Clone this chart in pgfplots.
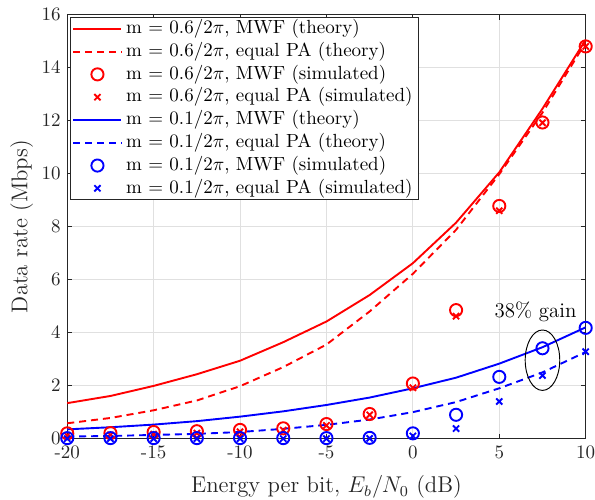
\documentclass[border=0pt]{standalone}
\usepackage{pgfplots}
\pgfplotsset{compat=1.18}
\usetikzlibrary{calc}
\definecolor{axgray}{gray}{0.15}
\definecolor{gridgray}{gray}{0.88}

\pgfplotstableread{
x      rs     rd     ro     rx     bs     bd     bo     bx
-20    1.34   0.58   0.20   0.12   0.35   0.08   0.02   0.00
-17.5  1.61   0.78   0.21   0.14   0.43   0.10   0.02   0.00
-15    1.99   1.07   0.25   0.17   0.53   0.14   0.02   0.00
-12.5  2.43   1.44   0.28   0.21   0.66   0.18   0.02   0.00
-10    2.94   1.98   0.33   0.26   0.83   0.25   0.02   0.00
-7.5   3.64   2.70   0.39   0.32   1.03   0.37   0.02   0.00
-5     4.42   3.55   0.55   0.50   1.27   0.52   0.02   0.00
-2.5   5.42   4.80   0.93   0.90   1.55   0.72   0.03   0.01
0      6.62   6.22   2.08   1.92   1.90   1.00   0.20   0.10
2.5    8.15   7.88   4.85   4.62   2.30   1.38   0.90   0.38
5      10.05  9.98   8.78   8.60   2.83   1.90   2.33   1.40
7.5    12.45  12.30  11.93  11.92  3.45   2.50   3.41   2.38
10     15.05  14.95  14.80  14.80  4.20   3.27   4.18   3.28
}\rates

\begin{document}
\begin{tikzpicture}
\begin{axis}[
  scale only axis,
  width=272.9pt, height=223.2pt,
  xmin=-20, xmax=10, ymin=0, ymax=16,
  xtick={-20,-15,...,10},
  xticklabels={-20,-15,-10,-5,0,5,10},
  ytick={0,2,...,16},
  grid=major,
  major grid style={gridgray, line width=0.4pt},
  axis line style={axgray, line width=0.5pt},
  major tick style={axgray, line width=0.5pt},
  major tick length=2.7pt,
  tick align=inside,
  tick label style={text=axgray},
  label style={text=axgray, font=\fontsize{12}{14}\selectfont},
  xlabel={Energy per bit, $E_b/N_0$ (dB)},
  ylabel={Data rate (Mbps)},
  xlabel style={at={(axis description cs:0.5,-0.114)}, anchor=center},
  ylabel style={at={(axis description cs:-0.088,0.5)}, anchor=center},
  legend cell align=left,
  legend style={at={(rel axis cs:0,1)}, anchor=north west, xshift=1.5pt, yshift=-1.2pt,
    draw=axgray, line width=0.5pt, fill=white, inner xsep=1pt, inner ysep=0pt,
    nodes={inner ysep=1pt, inner xsep=2pt, text height=7.5pt, text depth=2.5pt}},
  legend image code/.code={\draw[mark repeat=2,mark phase=2] plot coordinates {(0pt,0pt) (12.65pt,0pt) (25.3pt,0pt)};},
  every axis plot/.append style={line width=1pt},
  mdash/.style={dash pattern=on 3.7pt off 2.6pt},
]
\addplot[red, no marks] table[x=x, y=rs] {\rates};
\addlegendentry{m = 0.6/2$\pi$, MWF (theory)}
\addplot[red, no marks, mdash] table[x=x, y=rd] {\rates};
\addlegendentry{m = 0.6/2$\pi$, equal PA (theory)}
\addplot[red, only marks, mark=o, mark size=3.2pt] table[x=x, y=ro] {\rates};
\addlegendentry{m = 0.6/2$\pi$, MWF (simulated)}
\addplot[red, only marks, mark=x, mark size=2.3pt] table[x=x, y=rx] {\rates};
\addlegendentry{m = 0.6/2$\pi$, equal PA (simulated)}
\addplot[blue, no marks] table[x=x, y=bs] {\rates};
\addlegendentry{m = 0.1/2$\pi$, MWF (theory)}
\addplot[blue, no marks, mdash] table[x=x, y=bd] {\rates};
\addlegendentry{m = 0.1/2$\pi$, equal PA (theory)}
\addplot[blue, only marks, mark=o, mark size=3.2pt] table[x=x, y=bo] {\rates};
\addlegendentry{m = 0.1/2$\pi$, MWF (simulated)}
\addplot[blue, only marks, mark=x, mark size=2.3pt] table[x=x, y=bx] {\rates};
\addlegendentry{m = 0.1/2$\pi$, equal PA (simulated)}
\draw[black, line width=0.5pt] (axis cs:7.5,2.96) ellipse [x radius=1, y radius=1.14];
\node[text=black, font=\fontsize{11}{13}\selectfont] at (axis cs:7.1,4.78) {38\% gain};
\coordinate (A) at (rel axis cs:0,0);
\coordinate (B) at (rel axis cs:1,1);
\end{axis}
\pgfresetboundingbox
\path ($(A)+(-35.4pt,-32.3pt)$) rectangle ($(B)+(4.9pt,7.7pt)$);
\end{tikzpicture}
\end{document}
